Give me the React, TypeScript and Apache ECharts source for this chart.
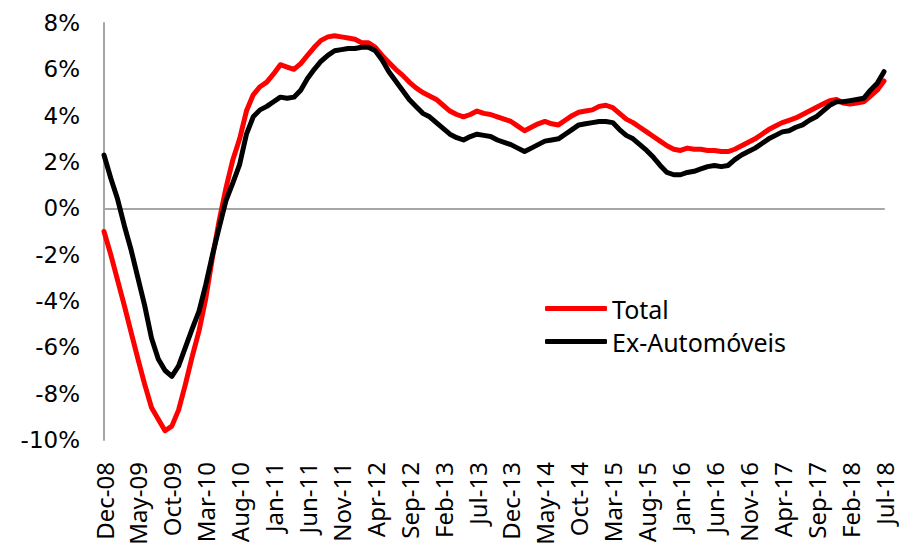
import React, { useEffect, useRef } from "react";
import * as echarts from "echarts";

const MONTHS = ["Jan", "Feb", "Mar", "Apr", "May", "Jun", "Jul", "Aug", "Sep", "Oct", "Nov", "Dec"];
// Monthly categories Dec-08 .. Jul-18
const categories: string[] = [];
for (let k = 0; k < 116; k++) {
  const m = (11 + k) % 12;
  const y = 8 + Math.floor((11 + k) / 12);
  categories.push(MONTHS[m] + "-" + String(y).padStart(2, "0"));
}

const total: number[] = [
  -1.0, -2.0, -3.1, -4.2, -5.35, -6.5, -7.6, -8.6, -9.1, -9.6,
  -9.4, -8.7, -7.6, -6.4, -5.3, -3.9, -2.1, -0.5, 0.9, 2.1,
  3.0, 4.2, 4.9, 5.25, 5.45, 5.8, 6.2, 6.1, 6.0, 6.25,
  6.6, 6.95, 7.25, 7.4, 7.45, 7.4, 7.35, 7.3, 7.15, 7.15,
  6.95, 6.6, 6.3, 6.0, 5.75, 5.45, 5.2, 5.0, 4.85, 4.7,
  4.45, 4.2, 4.05, 3.95, 4.05, 4.2, 4.1, 4.05, 3.95, 3.85,
  3.75, 3.55, 3.35, 3.5, 3.65, 3.75, 3.65, 3.6, 3.8, 4.0,
  4.15, 4.2, 4.25, 4.4, 4.45, 4.35, 4.1, 3.85, 3.7, 3.5,
  3.3, 3.1, 2.9, 2.7, 2.55, 2.5, 2.6, 2.55, 2.55, 2.5,
  2.5, 2.45, 2.45, 2.55, 2.7, 2.85, 3.0, 3.2, 3.4, 3.55,
  3.7, 3.8, 3.9, 4.05, 4.2, 4.35, 4.5, 4.65, 4.7, 4.55,
  4.5, 4.55, 4.6, 4.85, 5.1, 5.5,
];

const exAuto: number[] = [
  2.3, 1.3, 0.4, -0.75, -1.8, -3.0, -4.2, -5.6, -6.5, -7.0,
  -7.25, -6.8, -6.0, -5.2, -4.45, -3.3, -2.0, -0.8, 0.35, 1.1,
  1.9, 3.2, 3.95, 4.25, 4.4, 4.6, 4.8, 4.75, 4.8, 5.1,
  5.6, 6.0, 6.35, 6.6, 6.8, 6.85, 6.9, 6.9, 6.95, 6.95,
  6.8, 6.4, 5.9, 5.5, 5.1, 4.7, 4.4, 4.1, 3.95, 3.7,
  3.45, 3.2, 3.05, 2.95, 3.1, 3.2, 3.15, 3.1, 2.95, 2.85,
  2.75, 2.6, 2.45, 2.6, 2.75, 2.9, 2.95, 3.0, 3.2, 3.4,
  3.6, 3.65, 3.7, 3.75, 3.75, 3.7, 3.4, 3.15, 3.0, 2.75,
  2.5, 2.2, 1.85, 1.55, 1.45, 1.45, 1.55, 1.6, 1.7, 1.8,
  1.85, 1.8, 1.85, 2.1, 2.3, 2.45, 2.6, 2.8, 3.0, 3.15,
  3.3, 3.35, 3.5, 3.6, 3.8, 3.95, 4.2, 4.45, 4.6, 4.6,
  4.65, 4.7, 4.75, 5.1, 5.4, 5.9,
];

const seriesNames = ["Total", "Ex-Automóveis"];

export default function App() {
  const ref = useRef<HTMLDivElement>(null);
  useEffect(() => {
    if (!ref.current) return;
    const chart = echarts.init(ref.current, null, { renderer: "svg" });
    chart.setOption({
      animation: false,
      backgroundColor: "#ffffff",
      grid: { left: 104, right: 15, top: 23, bottom: 115, containLabel: false },
      legend: {
        data: seriesNames,
        orient: "vertical",
        left: 545,
        top: 296,
        padding: 0,
        icon: "roundRect",
        itemWidth: 62,
        itemHeight: 5,
        itemGap: 8,
        textStyle: { fontFamily: "Noto Sans", fontSize: 25, color: "#000" },
      },
      xAxis: [
        {
          type: "category",
          data: categories,
          boundaryGap: false,
          position: "bottom",
          axisLine: { show: false, onZero: false },
          axisTick: { show: false },
          axisLabel: {
            interval: 4,
            rotate: 90,
            margin: 22,
            fontFamily: "Noto Sans",
            fontSize: 24,
            lineHeight: 22,
            color: "#000",
          },
          splitLine: { show: false },
        },
        {
          type: "category",
          data: categories,
          boundaryGap: false,
          position: "top",
          axisLine: { show: true, onZero: true, lineStyle: { color: "#a6a6a6", width: 2 } },
          axisTick: { show: false },
          axisLabel: { show: false },
          splitLine: { show: false },
        },
      ],
      yAxis: {
        type: "value",
        min: -10,
        max: 8,
        interval: 2,
        axisLine: { show: true, onZero: false, lineStyle: { color: "#a6a6a6", width: 2 } },
        axisTick: { show: false },
        splitLine: { show: false },
        axisLabel: {
          formatter: "{value}%",
          margin: 24,
          fontFamily: "DejaVu Sans",
          fontSize: 23,
          color: "#000",
        },
      },
      series: [
        {
          name: seriesNames[0],
          type: "line",
          data: total,
          xAxisIndex: 0,
          showSymbol: false,
          symbol: "none",
          color: "#ff0000",
          lineStyle: { color: "#ff0000", width: 5, cap: "round", join: "round" },
          z: 3,
        },
        {
          name: seriesNames[1],
          type: "line",
          data: exAuto,
          xAxisIndex: 0,
          showSymbol: false,
          symbol: "none",
          color: "#000000",
          lineStyle: { color: "#000000", width: 5, cap: "round", join: "round" },
          z: 4,
        },
      ],
    });
    return () => chart.dispose();
  }, []);
  return <div ref={ref} style={{ width: 899, height: 555, position: "absolute", left: 0, top: 0 }} />;
}
